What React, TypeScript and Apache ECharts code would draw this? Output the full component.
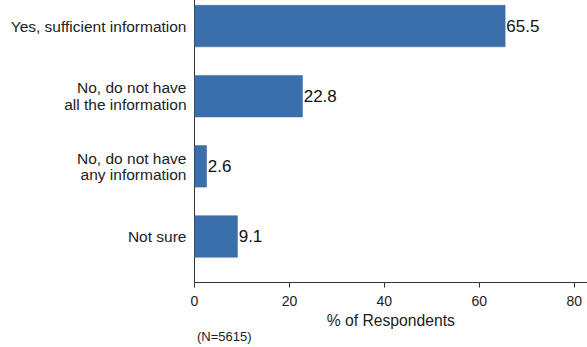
import React, { useEffect, useRef } from "react";
import * as echarts from "echarts";

const categories = [
  "Yes, sufficient information",
  "No, do not have\nall the information",
  "No, do not have\nany information",
  "Not sure",
];
const values = [65.5, 22.8, 2.6, 9.1];
const xTicks = [0, 20, 40, 60, 80];
const axisTitle = "% of Respondents";
const footnote = "(N=5615)";

// chart div is shifted up by SHIFT px so the first band can start above the page top
const SHIFT = 9;

export default function App() {
  const ref = useRef<HTMLDivElement>(null);
  useEffect(() => {
    if (!ref.current) return;
    const chart = echarts.init(ref.current, null, { renderer: "svg" });
    const font = "'Liberation Sans', Arial, sans-serif";
    chart.setOption({
      animation: false,
      backgroundColor: "#ffffff",
      textStyle: { fontFamily: font },
      grid: { left: 194.5, right: 0, top: 0, height: 280.5, containLabel: false },
      xAxis: {
        type: "value",
        min: 0,
        max: 82.7,
        offset: 11,
        splitLine: { show: false },
        axisLine: { show: true, lineStyle: { color: "#333", width: 1 } },
        axisTick: { show: true, length: 5, customValues: xTicks, lineStyle: { color: "#333" } },
        axisLabel: {
          customValues: xTicks,
          fontSize: 14,
          color: "#222",
          margin: 11,
          fontFamily: font,
        },
        name: axisTitle,
        nameLocation: "middle",
        nameGap: 27,
        nameTextStyle: { fontSize: 15.7, color: "#222", fontFamily: font },
      },
      yAxis: {
        type: "category",
        data: categories,
        inverse: true,
        axisLine: { show: true, lineStyle: { color: "#333", width: 1 } },
        axisTick: { show: false },
        axisLabel: {
          fontSize: 15.5,
          color: "#222",
          margin: 8,
          lineHeight: 16.5,
          align: "right",
          fontFamily: font,
        },
      },
      series: [
        {
          type: "bar",
          data: values,
          barWidth: 42,
          itemStyle: { color: "#3b6fab", borderColor: "#36659b", borderWidth: 0.5 },
          label: {
            show: true,
            position: "right",
            distance: 1,
            fontSize: 17,
            color: "#111",
            fontFamily: font,
            formatter: (p: any) => p.value.toFixed(1),
          },
        },
      ],
      graphic: [
        {
          type: "line",
          shape: { x1: 194.5, y1: 270 + SHIFT, x2: 194.5, y2: 282.5 + SHIFT },
          style: { stroke: "#333", lineWidth: 1 },
        },
        {
          type: "text",
          left: 197,
          top: 330 + SHIFT,
          style: { text: footnote, fontSize: 13, fill: "#222", fontFamily: font },
        },
      ],
    });
    return () => chart.dispose();
  }, []);
  return (
    <div style={{ position: "absolute", left: 0, top: 0, width: 587, height: 347, overflow: "hidden", background: "#fff" }}>
      <div
        ref={ref}
        style={{ position: "absolute", left: 0, top: -SHIFT, width: 587, height: 347 + SHIFT }}
      />
    </div>
  );
}
